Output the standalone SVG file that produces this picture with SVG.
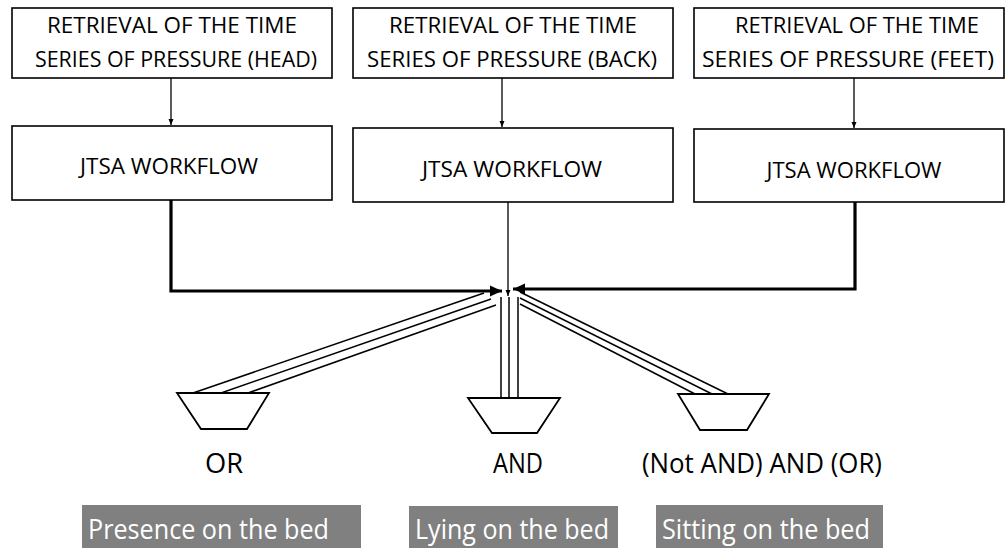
<svg xmlns="http://www.w3.org/2000/svg" width="1007" height="550" viewBox="0 0 1007 550">
  <defs>
    <style>
      .box { fill: #ffffff; stroke: #000000; stroke-width: 1.6; }
      .gate { fill: #ffffff; stroke: #000000; stroke-width: 1.8; stroke-linejoin: miter; }
      .t { font-family: "Open Sans", "Noto Sans", sans-serif; fill: #000000; text-anchor: middle; }
      .hdr { font-size: 22.5px; }
      .op { font-size: 26.5px; }
      .lbl { fill: #808080; }
      .lbltxt { font-family: "Open Sans", "Noto Sans", sans-serif; font-size: 27.5px; fill: #ffffff; }
      .thin { fill: none; stroke: #000000; stroke-width: 1.3; }
      .thick { fill: none; stroke: #000000; stroke-width: 3.2; }
      .triple { fill: none; stroke: #000000; stroke-width: 1.5; }
    </style>
    <marker id="arrSmall" markerUnits="userSpaceOnUse" markerWidth="8" markerHeight="8" refX="6" refY="4" orient="auto">
      <path d="M0,1.5 L6,4 L0,6.5 Z" fill="#000000"/>
    </marker>
    <marker id="arrBig" markerUnits="userSpaceOnUse" markerWidth="14" markerHeight="14" refX="12" refY="7" orient="auto">
      <path d="M0,1.5 L12,7 L0,12.5 Z" fill="#000000"/>
    </marker>
  </defs>

  <rect width="1007" height="550" fill="#ffffff"/>

  <!-- Connectors -->
  <g id="connectors">
    <!-- retrieval -> workflow -->
    <line class="thin" x1="171" y1="78" x2="171" y2="125" marker-end="url(#arrSmall)"/>
    <line class="thin" x1="502" y1="78" x2="502" y2="127" marker-end="url(#arrSmall)"/>
    <line class="thin" x1="854" y1="78" x2="854" y2="128" marker-end="url(#arrSmall)"/>
    <!-- workflows -> junction -->
    <path class="thick" d="M171,200 L171,291 L502,291" marker-end="url(#arrBig)"/>
    <path class="thick" d="M855,202 L855,289 L513,289" marker-end="url(#arrBig)"/>
    <line class="thin" x1="508" y1="202" x2="508" y2="296" marker-end="url(#arrSmall)"/>
    <!-- junction -> OR gate -->
    <line class="triple" x1="484" y1="293" x2="193" y2="393"/>
    <line class="triple" x1="491" y1="299" x2="221" y2="393"/>
    <line class="triple" x1="496" y1="305" x2="248" y2="393"/>
    <!-- junction -> AND gate -->
    <line class="triple" x1="501" y1="297" x2="501" y2="398"/>
    <line class="triple" x1="509" y1="297" x2="509" y2="398"/>
    <line class="triple" x1="518" y1="297" x2="518" y2="398"/>
    <!-- junction -> (Not AND) AND (OR) gate -->
    <line class="triple" x1="520" y1="292" x2="728" y2="394"/>
    <line class="triple" x1="520" y1="298" x2="712" y2="394"/>
    <line class="triple" x1="520" y1="304" x2="695" y2="394"/>
  </g>

  <!-- Retrieval boxes -->
  <g id="retrieval-head">
    <rect class="box" x="12" y="8" width="320" height="70"/>
    <text class="t hdr" x="172" y="33" textLength="250" lengthAdjust="spacingAndGlyphs">RETRIEVAL OF THE TIME</text>
    <text class="t hdr" x="176" y="67" textLength="282" lengthAdjust="spacingAndGlyphs">SERIES OF PRESSURE (HEAD)</text>
  </g>
  <g id="retrieval-back">
    <rect class="box" x="353" y="8" width="320" height="70"/>
    <text class="t hdr" x="513" y="33" textLength="248" lengthAdjust="spacingAndGlyphs">RETRIEVAL OF THE TIME</text>
    <text class="t hdr" x="512" y="67" textLength="290" lengthAdjust="spacingAndGlyphs">SERIES OF PRESSURE (BACK)</text>
  </g>
  <g id="retrieval-feet">
    <rect class="box" x="694" y="8" width="310" height="70"/>
    <text class="t hdr" x="857" y="33" textLength="244" lengthAdjust="spacingAndGlyphs">RETRIEVAL OF THE TIME</text>
    <text class="t hdr" x="848" y="67" textLength="292" lengthAdjust="spacingAndGlyphs">SERIES OF PRESSURE (FEET)</text>
  </g>

  <!-- Workflow boxes -->
  <g id="workflow-head">
    <rect class="box" x="12" y="126" width="320" height="74"/>
    <text class="t hdr" x="169" y="174" textLength="178" lengthAdjust="spacingAndGlyphs">JTSA WORKFLOW</text>
  </g>
  <g id="workflow-back">
    <rect class="box" x="353" y="128" width="320" height="74"/>
    <text class="t hdr" x="512" y="177" textLength="180" lengthAdjust="spacingAndGlyphs">JTSA WORKFLOW</text>
  </g>
  <g id="workflow-feet">
    <rect class="box" x="694" y="129" width="310" height="73"/>
    <text class="t hdr" x="854" y="178" textLength="175" lengthAdjust="spacingAndGlyphs">JTSA WORKFLOW</text>
  </g>

  <!-- Logic gates -->
  <g id="gate-or">
    <polygon class="gate" points="177,393 269,393 247,429 201,429"/>
    <text class="t op" x="224" y="473" textLength="38" lengthAdjust="spacingAndGlyphs">OR</text>
  </g>
  <g id="gate-and">
    <polygon class="gate" points="468,398 560,398 537,433 492,433"/>
    <text class="t op" x="518" y="473" textLength="50" lengthAdjust="spacingAndGlyphs">AND</text>
  </g>
  <g id="gate-notand-or">
    <polygon class="gate" points="678,394 769,394 747,430 700,430"/>
    <text class="t op" x="762" y="473" textLength="240" lengthAdjust="spacingAndGlyphs">(Not AND) AND (OR)</text>
  </g>

  <!-- Result labels -->
  <g id="label-presence">
    <rect class="lbl" x="82" y="505" width="279" height="43"/>
    <text class="lbltxt" x="88" y="539" textLength="241" lengthAdjust="spacingAndGlyphs">Presence on the bed</text>
  </g>
  <g id="label-lying">
    <rect class="lbl" x="409" y="506" width="209" height="42"/>
    <text class="lbltxt" x="415" y="539" textLength="194" lengthAdjust="spacingAndGlyphs">Lying on the bed</text>
  </g>
  <g id="label-sitting">
    <rect class="lbl" x="656" y="505" width="227" height="43"/>
    <text class="lbltxt" x="662" y="539" textLength="208" lengthAdjust="spacingAndGlyphs">Sitting on the bed</text>
  </g>
</svg>
